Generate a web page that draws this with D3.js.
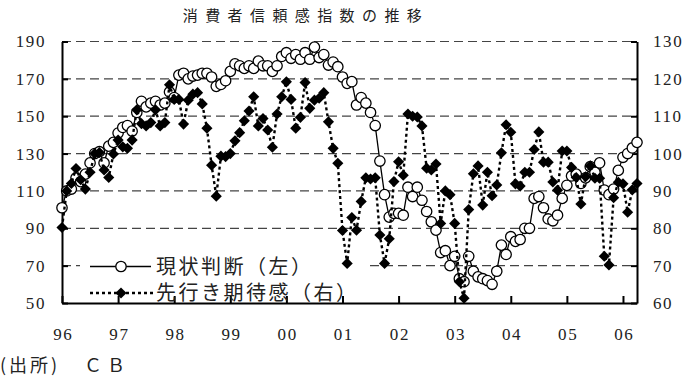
<!DOCTYPE html>
<html><head><meta charset="utf-8">
<script src="https://cdn.jsdelivr.net/npm/d3@7"></script>
<style>
html,body{margin:0;padding:0;background:#fff;}
svg{display:block;}
.num{font-family:"Liberation Serif","Times New Roman","DejaVu Serif",serif;}
</style></head>
<body>
<svg id="chart" width="699" height="376"></svg>
<script>
// ---- data ----
const title = "消費者信頼感指数の推移";
const source = "(出所)";
const sourceCode = "ＣＢ";
const seriesNames = ["現状判断（左）", "先行き期待感（右）"];
const yearLabels = ["96","97","98","99","00","01","02","03","04","05","06"];
const leftTicks = [50,70,90,110,130,150,170,190];
const rightTicks = [60,70,80,90,100,110,120,130];
// monthly, Jan 1996 - Apr 2006
const present = [
 101,110,111,117,115,119,125,130,131,125,134,136,
 141,144,145,142,152,158,155,157,158,156,157,163,
 160,172,173,170,171.5,172,173,173,171,166,167,169,
 174,178,177,175.6,177,175.6,179.5,177,177,174,177,182,
 184,181,183,180.5,184,180.5,187,181.4,183,177.4,179,176.5,
 171,167.6,168.5,156,160,157,152,145,126,108,96,98,
 98,97,112,107,112,105,99,93.5,89,77,78,70,
 75,63,61.4,75,67,64,63,62,60,67,81,76,
 85.5,83,84,90,90,106,107,101,95,94,97,106,
 113,118,119,114,117,123,120,125,110.5,108,111,121,
 128,130,133,136
];
const expectations = [
 80.2,90,92,96,93,90.5,95,100,100.3,95.6,93.6,99.9,
 103.6,101.8,101.4,103.6,111.7,108,107.4,108.3,111.7,107.4,108.3,118.4,
 114.5,114.5,107.9,114.3,115.9,116.3,113.3,106.8,96.9,88.6,99.3,99.2,
 100,103.4,105.6,108.8,111.4,115.2,107.4,109.4,106.3,101.7,110.6,115.2,
 119.2,114.5,106.8,109.7,119,112.1,114.3,114.8,116.3,108.5,101.4,97.4,
 79.4,70.6,82.9,79.5,87.2,93.5,93.2,93.5,78.2,70.6,77.2,92.5,
 97.8,94.2,110.6,110,109.8,107.4,96.1,95.6,97.2,81.3,90,89,
 81.3,65.7,61.3,85,94.6,96.7,86.2,95,88.7,91.6,100.2,107.7,
 105.7,91.9,91.3,95,95,101.1,105.8,97.7,97.7,92.4,90.2,100.7,
 100.7,96.3,93.6,86.5,93.8,96.7,93.4,93.4,72.5,70.2,88.2,92.3,
 91.9,84.3,90.3,92
];

// ---- layout ----
const L = 62, R = 637, T = 41.5, B = 303;
const svg = d3.select("#chart");
const jpFont = "'Noto Sans CJK JP', sans-serif";
const serifFont = "'Liberation Serif', 'Times New Roman', 'DejaVu Serif', serif";

const x = d3.scaleLinear().domain([0, present.length - 1]).range([L, R]);
const yL = d3.scaleLinear().domain([50, 190]).range([B, T]);
const yR = d3.scaleLinear().domain([60, 130]).range([B, T]);

// title
svg.append("text").attr("x", 306).attr("y", 21).attr("text-anchor", "middle")
  .style("font-family", jpFont).style("font-size", "15px").style("letter-spacing", "7.4px")
  .attr("fill", "#222").text(title);

// gridlines
svg.append("g").selectAll("line").data(leftTicks.filter(d => d > 50)).join("line")
  .attr("x1", L).attr("x2", R).attr("y1", d => yL(d)).attr("y2", d => yL(d))
  .attr("stroke", "#444").attr("stroke-width", 1.2).attr("stroke-dasharray", "9,5");

// legend background (under data)
svg.append("rect").attr("x", 80).attr("y", 250).attr("width", 288).attr("height", 50).attr("fill", "#fff");

// axes
const gL = svg.append("g").attr("transform", `translate(${L},0)`)
  .call(d3.axisLeft(yL).tickValues(leftTicks).tickSize(-6).tickSizeOuter(0).tickPadding(16));
const gR = svg.append("g").attr("transform", `translate(${R},0)`)
  .call(d3.axisRight(yR).tickValues(rightTicks).tickSize(-6).tickSizeOuter(0).tickPadding(16));
const gB = svg.append("g").attr("transform", `translate(0,${B})`)
  .call(d3.axisBottom(x).tickValues(yearLabels.map((d, i) => i * 12)).tickFormat((d, i) => yearLabels[i])
    .tickSize(-7).tickSizeOuter(0));
[gL, gR, gB].forEach(g => {
  g.attr("font-family", serifFont).attr("font-size", 17);
  g.select(".domain").attr("stroke", "#000").attr("stroke-width", 2);
  g.selectAll(".tick line").attr("stroke", "#000").attr("stroke-width", 2);
  g.selectAll("text").attr("class", "num")
    .style("font-family", serifFont).style("font-size", "17px")
    .style("letter-spacing", "1.6px").attr("fill", "#222");
});
gB.selectAll("text").attr("y", 37).attr("dy", null).attr("dx", "0.8px");

// present situation series
svg.append("path").datum(present)
  .attr("d", d3.line().x((d, i) => x(i)).y(d => yL(d)))
  .attr("fill", "none").attr("stroke", "#000").attr("stroke-width", 1.3);
svg.append("g").selectAll("circle").data(present).join("circle")
  .attr("cx", (d, i) => x(i)).attr("cy", d => yL(d)).attr("r", 5.2)
  .attr("fill", "#fff").attr("stroke", "#000").attr("stroke-width", 1.3);

// expectations series
svg.append("path").datum(expectations)
  .attr("d", d3.line().x((d, i) => x(i)).y(d => yR(d)))
  .attr("fill", "none").attr("stroke", "#000").attr("stroke-width", 2.4).attr("stroke-dasharray", "3,3");
const diamond = d3.symbol().type(d3.symbolSquare).size(62);
svg.append("g").selectAll("path").data(expectations).join("path")
  .attr("d", diamond)
  .attr("transform", (d, i) => `translate(${x(i)},${yR(d)}) rotate(45)`)
  .attr("fill", "#000");

// legend
const lg = svg.append("g");
lg.append("line").attr("x1", 90).attr("x2", 151).attr("y1", 266.5).attr("y2", 266.5)
  .attr("stroke", "#000").attr("stroke-width", 1.3);
lg.append("circle").attr("cx", 121).attr("cy", 266.5).attr("r", 5.2)
  .attr("fill", "#fff").attr("stroke", "#000").attr("stroke-width", 1.3);
lg.append("line").attr("x1", 90).attr("x2", 153).attr("y1", 293).attr("y2", 293)
  .attr("stroke", "#000").attr("stroke-width", 2.4).attr("stroke-dasharray", "3,3");
lg.append("path").attr("d", diamond).attr("transform", "translate(121,293) rotate(45)").attr("fill", "#000");
lg.selectAll("text").data(seriesNames).join("text")
  .attr("x", 156).attr("y", (d, i) => i === 0 ? 273.5 : 300)
  .style("font-family", jpFont).style("font-size", "20px").style("letter-spacing", "2.5px")
  .attr("fill", "#222").text(d => d);

// source
svg.append("text").attr("x", 0).attr("y", 372)
  .style("font-family", jpFont).style("font-size", "18px").style("letter-spacing", "3px")
  .attr("fill", "#222").text(source);
svg.append("text").attr("x", 84).attr("y", 372)
  .style("font-family", jpFont).style("font-size", "18px").style("letter-spacing", "5px")
  .attr("fill", "#222").text(sourceCode);
</script>
</body></html>
